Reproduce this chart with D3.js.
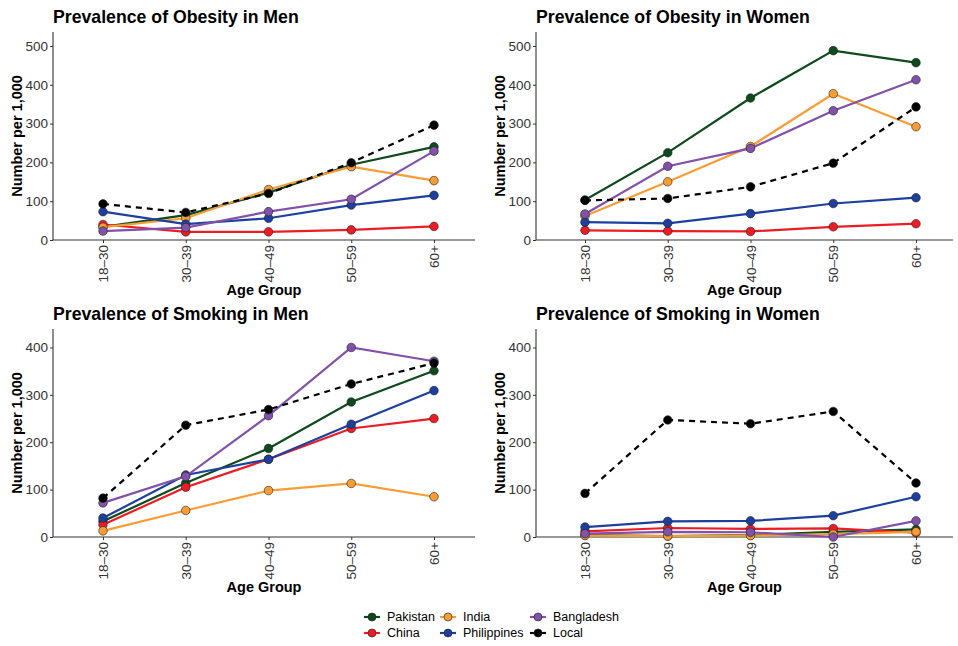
<!DOCTYPE html>
<html>
<head>
<meta charset="utf-8">
<script src="https://cdn.jsdelivr.net/npm/d3@7"></script>
<style>
  body { margin: 0; background: #fff; }
  text { font-family: "Liberation Sans", Arial, Helvetica, sans-serif; }
</style>
</head>
<body>
<div id="main"></div>
<script>
var W = 958, H = 646;

var ageGroups = ["18–30", "30–39", "40–49", "50–59", "60+"];
var groups = ["Pakistan", "China", "India", "Philippines", "Bangladesh", "Local"];
var groupColors = ["#0e4a1d", "#ec1c24", "#f89d36", "#1d409e", "#8251a9", "#000000"];

// values per 1,000, order follows ageGroups
var obesityMen = {
  Pakistan:    [34, 64, 122, 194, 240],
  China:       [40, 21, 21, 26, 35],
  India:       [33, 56, 130, 189, 153],
  Philippines: [73, 41, 56, 90, 115],
  Bangladesh:  [23, 32, 73, 105, 229],
  Local:       [93, 71, 120, 199, 296]
};
var obesityWomen = {
  Pakistan:    [103, 225, 366, 488, 457],
  China:       [25, 23, 22, 34, 42],
  India:       [62, 150, 241, 377, 292],
  Philippines: [46, 43, 68, 94, 109],
  Bangladesh:  [67, 190, 236, 333, 413],
  Local:       [102, 107, 137, 198, 343]
};
var smokingMen = {
  Pakistan:    [33, 114, 187, 285, 351],
  China:       [26, 105, 164, 229, 250],
  India:       [13, 56, 98, 113, 85],
  Philippines: [40, 131, 164, 238, 309],
  Bangladesh:  [72, 128, 256, 400, 371],
  Local:       [82, 236, 269, 323, 367]
};
var smokingWomen = {
  Pakistan:    [4, 2, 4, 11, 16],
  China:       [12, 19, 17, 18, 9],
  India:       [3, 2, 3, 6, 11],
  Philippines: [21, 33, 34, 45, 85],
  Bangladesh:  [7, 11, 10, 0, 34],
  Local:       [92, 247, 239, 265, 114]
};

var obesityTicks = [0, 100, 200, 300, 400, 500];
var smokingTicks = [0, 100, 200, 300, 400];

var panels = [
  { title: "Prevalence of Obesity in Men", data: obesityMen, ticks: obesityTicks, ymax: 536,
    left: 53, right: 475, top: 32, bottom: 240, x0: 103, x1: 434 },
  { title: "Prevalence of Obesity in Women", data: obesityWomen, ticks: obesityTicks, ymax: 536,
    left: 536, right: 953, top: 32, bottom: 240, x0: 585, x1: 916 },
  { title: "Prevalence of Smoking in Men", data: smokingMen, ticks: smokingTicks, ymax: 439,
    left: 53, right: 475, top: 329, bottom: 537, x0: 103, x1: 434 },
  { title: "Prevalence of Smoking in Women", data: smokingWomen, ticks: smokingTicks, ymax: 439,
    left: 536, right: 953, top: 329, bottom: 537, x0: 585, x1: 916 }
];

var color = d3.scaleOrdinal().domain(groups).range(groupColors);

var svg = d3.select('#main')
  .append("svg")
  .attr('width', W)
  .attr('height', H);

panels.forEach(function (p) {
  var g = svg.append("g");

  var x = d3.scalePoint().domain(ageGroups).range([p.x0, p.x1]);
  var y = d3.scaleLinear().domain([0, p.ymax]).range([p.bottom, p.top]);

  // title
  g.append("text")
    .attr("x", p.left)
    .attr("y", p.top - 9)
    .style("font-size", "17.7px")
    .style("font-weight", "bold")
    .attr("fill", "#000")
    .text(p.title);

  // y axis
  var yAxis = g.append("g")
    .attr("transform", "translate(" + p.left + ",0)")
    .call(d3.axisLeft(y).tickValues(p.ticks).tickSize(3).tickPadding(2));
  yAxis.select(".domain").remove();
  yAxis.selectAll(".tick line").attr("stroke", "#333");
  yAxis.selectAll(".tick text").attr("fill", "#333").style("font-size", "13.5px");
  g.append("line")
    .attr("x1", p.left).attr("x2", p.left)
    .attr("y1", p.top).attr("y2", p.bottom)
    .attr("stroke", "#333").attr("stroke-width", 1.1);

  // x axis
  var xAxis = g.append("g")
    .attr("transform", "translate(0," + p.bottom + ")")
    .call(d3.axisBottom(x).tickSize(3));
  xAxis.select(".domain").remove();
  xAxis.selectAll(".tick line").attr("stroke", "#333");
  xAxis.selectAll(".tick text")
    .attr("fill", "#333")
    .style("font-size", "13.5px")
    .attr("transform", "rotate(-90)")
    .attr("x", -5)
    .attr("y", 0)
    .attr("dy", ".35em")
    .style("text-anchor", "end");
  g.append("line")
    .attr("x1", p.left).attr("x2", p.right)
    .attr("y1", p.bottom).attr("y2", p.bottom)
    .attr("stroke", "#333").attr("stroke-width", 1.1);

  // axis titles
  g.append("text")
    .attr("transform", "translate(" + ((p.left + p.right) / 2) + "," + (p.bottom + 55) + ")")
    .style("text-anchor", "middle")
    .style("font-weight", "bold")
    .style("font-size", "14.5px")
    .text("Age Group");

  g.append("text")
    .attr("transform", "translate(" + (p.left - 31) + "," + ((p.top + p.bottom) / 2) + ") rotate(-90)")
    .style("text-anchor", "middle")
    .style("font-weight", "bold")
    .style("font-size", "14.5px")
    .text("Number per 1,000");

  var line = d3.line()
    .x(function (d, i) { return x(ageGroups[i]); })
    .y(function (d) { return y(d); });

  groups.forEach(function (name) {
    var vals = p.data[name];
    g.append("path")
      .datum(vals)
      .attr("d", line)
      .attr("fill", "none")
      .attr("stroke", color(name))
      .attr("stroke-width", 2.2)
      .attr("stroke-dasharray", name === "Local" ? "6,5" : null);

    g.selectAll(".pt-" + name)
      .data(vals)
      .enter()
      .append("circle")
      .attr("cx", function (d, i) { return x(ageGroups[i]); })
      .attr("cy", function (d) { return y(d); })
      .attr("r", 4.3)
      .attr("fill", color(name))
      .attr("stroke", "#222")
      .attr("stroke-width", 0.6);
  });
});

// legend, filled column by column
var legendCols = [372, 448, 538];
var legendRows = [617, 633];

var legend = svg.selectAll('.legend')
  .data(groups)
  .enter()
  .append("g")
  .attr("class", "legend")
  .attr("transform", function (d, i) {
    return "translate(" + legendCols[Math.floor(i / 2)] + "," + legendRows[i % 2] + ")";
  });

legend.append("line")
  .attr("x1", -8).attr("x2", 8)
  .attr("stroke", color)
  .attr("stroke-width", 2.2);

legend.append("circle")
  .attr("r", 4)
  .attr("fill", color)
  .attr("stroke", "#222")
  .attr("stroke-width", 0.6);

legend.append("text")
  .attr("x", 15)
  .attr("dy", ".35em")
  .style("font-size", "12.5px")
  .text(function (d) { return d; });
</script>
</body>
</html>
